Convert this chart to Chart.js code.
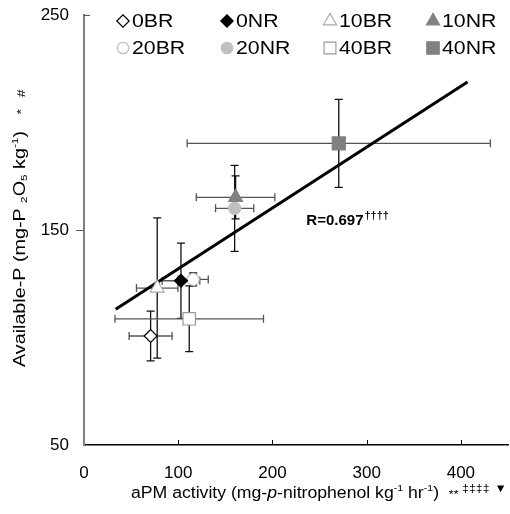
<!DOCTYPE html>
<html>
<head>
<meta charset="utf-8">
<script src="https://cdn.jsdelivr.net/npm/chart.js@4/dist/chart.umd.min.js"></script>
<style>
  body { margin: 0; background: #fff; }
  canvas { display: block; }
</style>
</head>
<body>
<canvas id="chart" width="510" height="514"></canvas>
<script>
// veriler
const treatments = ['0BR', '0NR', '10BR', '10NR', '20BR', '20NR', '40BR', '40NR'];
const apm = [70.7, 102.9, 77.7, 160.9, 115.9, 159.9, 111.7, 270.4];
const apmErr = [22.8, 20, 22, 41.7, 16, 20.3, 78.8, 160.9];
const availP = [100.7, 126.4, 123, 165.2, 127, 160.1, 108.7, 190.3];
const availPErr = [11.6, 17.5, 32.6, 10, 3, 20, 15.3, 20.5];
const fitX = [33.6, 407];
const fitY = [113.1, 218.8];
const xTicks = [0, 100, 200, 300, 400];
const yTicks = [50, 150, 250];
const rText = 'R=0.697';

const FONT = '"Liberation Sans", Arial, sans-serif';

// isaretler
const markers = [
  { style: 'rectRot', r: 6.5, fill: '#fff', line: '#000' },
  { style: 'rectRot', r: 6.5, fill: '#000', line: '#000' },
  { style: 'triangle', r: 8, fill: '#fff', line: '#aaa' },
  { style: 'triangle', r: 8, fill: '#808080', line: '#808080' },
  { style: 'circle', r: 6, fill: '#fff', line: '#c0c0c0' },
  { style: 'circle', r: 6, fill: '#c0c0c0', line: '#c0c0c0' },
  { style: 'rect', r: 8.8, fill: '#fff', line: '#999' },
  { style: 'rect', r: 9.2, fill: '#808080', line: '#808080' }
];

const pointSets = treatments.map((name, i) => ({
  type: 'scatter',
  label: name,
  data: [{ x: apm[i], y: availP[i] }],
  pointStyle: markers[i].style,
  pointRadius: markers[i].r,
  pointBackgroundColor: markers[i].fill,
  pointBorderColor: markers[i].line,
  pointBorderWidth: 1.2,
  order: 1
}));

const fitSet = {
  type: 'line',
  label: 'fit',
  data: fitX.map((x, i) => ({ x: x, y: fitY[i] })),
  borderColor: '#000',
  borderWidth: 3,
  pointRadius: 0,
  order: 5
};

// yazi parcalari (ust / alt simge)
const partFont = (p, size) => {
  let fs = size, dy = 0, style = '';
  if (p.f == 'sup') { fs = size * 0.6; dy = -size * 0.38; }
  if (p.f == 'sub') { fs = size * 0.6; dy = size * 0.22; }
  if (p.f == 'small') { fs = size * 0.72; dy = size * 0.08; }
  if (p.f == 'mark') { fs = size * 0.7; dy = -size * 0.3; }
  if (p.f == 'it') style = 'italic ';
  return { font: `${style}${fs}px ${FONT}`, dy: dy };
};

const richWidth = (ctx, parts, size) => {
  let w = 0;
  parts.forEach(p => {
    ctx.font = partFont(p, size).font;
    w += ctx.measureText(p.t).width;
  });
  return w;
};

// ana metni hedef genislige yayar, ekleri arkasina yazar
const drawRich = (ctx, main, tail, x, y, size, target) => {
  const sx = target / richWidth(ctx, main, size);
  ctx.save();
  ctx.translate(x, y);
  ctx.scale(sx, 1);
  let cx = 0;
  [...main, ...tail].forEach(p => {
    const pf = partFont(p, size);
    ctx.font = pf.font;
    ctx.fillText(p.t, cx, pf.dy);
    cx += ctx.measureText(p.t).width;
  });
  ctx.restore();
};

const xTitle = [
  { t: 'aPM activity (mg-' }, { t: 'p', f: 'it' }, { t: '-nitrophenol kg' },
  { t: '-1', f: 'sup' }, { t: ' hr' }, { t: '-1', f: 'sup' }, { t: ')' }
];
const xTail = [
  { t: '  ' }, { t: '**', f: 'small' }, { t: ' \u2021\u2021\u2021\u2021', f: 'mark' }, { t: ' ' },
  { t: '\u25BC', f: 'mark' }
];
const yTitle = [
  { t: 'Available-P (mg-P ' }, { t: '2', f: 'sub' }, { t: 'O' }, { t: '5', f: 'sub' },
  { t: ' kg' }, { t: '-1', f: 'sup' }, { t: ')' }
];
const yTail = [{ t: '   ' }, { t: '*', f: 'small' }, { t: '   #', f: 'small' }];

// hata cubuklari
const errorBars = {
  id: 'errorBars',
  beforeDatasetsDraw(chart) {
    const { ctx, scales: { x, y } } = chart;
    const cap = 4;
    ctx.save();
    ctx.lineWidth = 1.3;
    treatments.forEach((t, i) => {
      const px = x.getPixelForValue(apm[i]);
      const py = y.getPixelForValue(availP[i]);
      const x1 = x.getPixelForValue(apm[i] - apmErr[i]);
      const x2 = x.getPixelForValue(apm[i] + apmErr[i]);
      const y1 = y.getPixelForValue(availP[i] + availPErr[i]);
      const y2 = y.getPixelForValue(availP[i] - availPErr[i]);
      ctx.strokeStyle = '#555';
      ctx.beginPath();
      ctx.moveTo(x1, py); ctx.lineTo(x2, py);
      ctx.moveTo(x1, py - cap); ctx.lineTo(x1, py + cap);
      ctx.moveTo(x2, py - cap); ctx.lineTo(x2, py + cap);
      ctx.stroke();
      ctx.strokeStyle = '#111';
      ctx.beginPath();
      ctx.moveTo(px, y1); ctx.lineTo(px, y2);
      ctx.moveTo(px - cap, y1); ctx.lineTo(px + cap, y1);
      ctx.moveTo(px - cap, y2); ctx.lineTo(px + cap, y2);
      ctx.stroke();
    });
    ctx.restore();
  }
};

// lejant, eksen basliklari, R degeri
const extras = {
  id: 'extras',
  afterDraw(chart) {
    const { ctx, scales: { x, y }, chartArea } = chart;
    ctx.save();

    // tik isaretleri
    ctx.strokeStyle = '#000';
    ctx.lineWidth = 1;
    ctx.beginPath();
    xTicks.slice(1).forEach(v => {
      const px = Math.round(x.getPixelForValue(v)) + 0.5;
      ctx.moveTo(px, chartArea.bottom);
      ctx.lineTo(px, chartArea.bottom - 5);
    });
    ctx.stroke();
    ctx.strokeStyle = '#555';
    ctx.beginPath();
    let py = Math.round(y.getPixelForValue(150)) + 0.5;
    ctx.moveTo(chartArea.left - 8, py); ctx.lineTo(chartArea.left, py);
    py = Math.round(y.getPixelForValue(250)) + 0.5;
    ctx.moveTo(chartArea.left, py); ctx.lineTo(chartArea.left + 6, py);
    ctx.stroke();

    // lejant
    const colX = [123, 227, 330, 433];
    const rowY = [21, 48];
    chart.data.datasets.slice(0, 8).forEach((ds, i) => {
      const lx = colX[i % 4];
      const ly = rowY[Math.floor(i / 4)];
      ctx.fillStyle = ds.pointBackgroundColor;
      ctx.strokeStyle = ds.pointBorderColor;
      ctx.lineWidth = 1.2;
      Chart.helpers.drawPoint(ctx, { pointStyle: ds.pointStyle, radius: ds.pointRadius * 0.95, rotation: 0, borderWidth: 1.2 }, lx, ly);
      ctx.fillStyle = '#000';
      ctx.textBaseline = 'middle';
      ctx.textAlign = 'left';
      ctx.font = `19px ${FONT}`;
      ctx.save();
      ctx.translate(lx + 9, ly + 1);
      ctx.scale(1.12, 1);
      ctx.fillText(ds.label, 0, 0);
      ctx.restore();
    });

    // R degeri
    ctx.fillStyle = '#000';
    ctx.textBaseline = 'middle';
    const rx = x.getPixelForValue(236);
    const ry = y.getPixelForValue(154.3);
    ctx.font = `bold 15px ${FONT}`;
    ctx.fillText(rText, rx, ry);
    const rw = ctx.measureText(rText).width;
    ctx.font = `bold 11px ${FONT}`;
    ctx.fillText('\u2020\u2020\u2020\u2020', rx + rw + 1, ry - 5);

    // x ekseni basligi
    ctx.textBaseline = 'middle';
    drawRich(ctx, xTitle, xTail, 131, 494, 16, 308);

    // y ekseni basligi
    ctx.translate(21, 0);
    ctx.rotate(-Math.PI / 2);
    drawRich(ctx, yTitle, yTail, -367, 0, 16, 236);

    ctx.restore();
  }
};

new Chart(document.getElementById('chart'), {
  type: 'scatter',
  data: { datasets: [...pointSets, fitSet] },
  options: {
    responsive: false,
    animation: false,
    devicePixelRatio: 1,
    layout: { autoPadding: false, padding: { top: 15, right: 2, bottom: 0, left: 0 } },
    plugins: { legend: { display: false }, tooltip: { enabled: false } },
    scales: {
      x: {
        type: 'linear',
        min: 0,
        max: 450,
        afterBuildTicks: (s) => { s.ticks = xTicks.map(v => ({ value: v })); },
        afterFit: (s) => { s.height = 69; s.paddingLeft = 0; s.paddingRight = 0; },
        ticks: { color: '#000', font: { family: FONT, size: 17 }, padding: 10, maxRotation: 0 },
        grid: { display: false },
        border: { color: '#000', width: 1.6 }
      },
      y: {
        type: 'linear',
        min: 50,
        max: 250,
        afterBuildTicks: (s) => { s.ticks = yTicks.map(v => ({ value: v })); },
        afterFit: (s) => { s.width = 84; s.paddingTop = 0; s.paddingBottom = 0; },
        ticks: { color: '#000', font: { family: FONT, size: 17 }, padding: 0 },
        grid: { display: true, drawOnChartArea: false, drawTicks: true, tickLength: 15, color: 'rgba(0,0,0,0)' },
        border: { color: '#808080', width: 2 }
      }
    }
  },
  plugins: [errorBars, extras]
});
</script>
</body>
</html>
